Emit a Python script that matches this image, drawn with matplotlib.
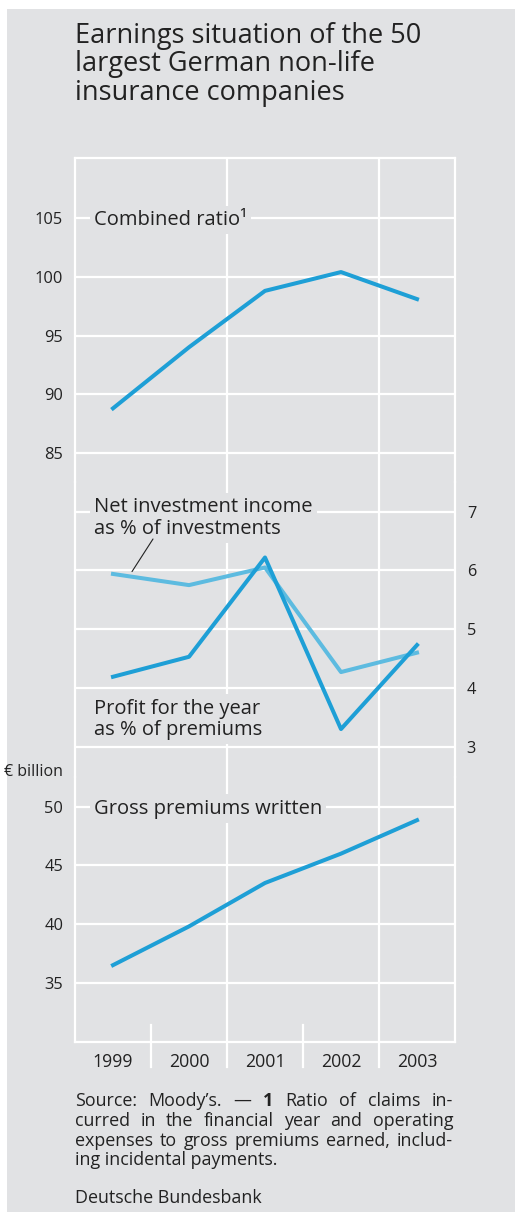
import matplotlib.pyplot as plt
from matplotlib.patches import Rectangle
from matplotlib.transforms import blended_transform_factory

# values
years = ['1999', '2000', '2001', '2002', '2003']
combined_ratio = [88.8, 94.0, 98.8, 100.4, 98.1]
net_investment = [5.94, 5.75, 6.05, 4.27, 4.60]
profit_year = [4.19, 4.53, 6.22, 3.30, 4.73]
gross_premiums = [36.5, 39.8, 43.5, 46.0, 48.85]

combined_ticks = [85, 90, 95, 100, 105]
ratio_ticks = [3, 4, 5, 6, 7]
premium_ticks = [35, 40, 45, 50]

BG = '#e1e2e4'
DARK = '#1e9fd6'
LIGHT = '#5dbbe0'
TXT = '#222222'

plt.rcParams['font.family'] = ['Open Sans', 'DejaVu Sans']

W, H = 515, 1212
fig = plt.figure(figsize=(W / 100, H / 100), dpi=100, facecolor=BG)

# white paper margin top and left
fig.patches.append(Rectangle((0, 1 - 9 / H), 1, 9 / H, transform=fig.transFigure,
                             facecolor='white', edgecolor='none', zorder=0))
fig.patches.append(Rectangle((0, 0), 7 / W, 1, transform=fig.transFigure,
                             facecolor='white', edgecolor='none', zorder=0))

# title
for line, base in zip(['Earnings situation of the 50',
                       'largest German non-life',
                       'insurance companies'], [43, 71.5, 100]):
    fig.text(75 / W, 1 - base / H, line, fontsize=19.5, color=TXT, va='baseline')


def box(top, bottom):
    return [75 / W, 1 - bottom / H, 380 / W, (bottom - top) / H]


ax1 = fig.add_axes(box(158, 482))
ax2 = fig.add_axes(box(482, 777))
ax3 = fig.add_axes(box(777, 1042))

ax1.set_ylim(82.53, 110.11)
ax2.set_ylim(2.484, 7.505)
ax3.set_ylim(29.95, 52.53)
ax1.set_yticks(combined_ticks)
ax2.set_yticks(ratio_ticks)
ax3.set_yticks(premium_ticks)
ax2.yaxis.tick_right()

for ax in (ax1, ax2, ax3):
    ax.set_facecolor('none')
    ax.set_xlim(-0.5, 4.5)
    ax.set_axisbelow(True)
    ax.grid(axis='y', color='white', lw=1.6)
    for s in ax.spines.values():
        s.set_color('white')
        s.set_linewidth(1.6)
    ax.tick_params(axis='y', length=0, pad=8.5, labelcolor=TXT, labelsize=11.8)
    for xv in (1.5, 3.5):
        ax.axvline(xv, color='white', lw=1.6, zorder=0.6)

ax1.spines['bottom'].set_visible(False)
ax2.spines['top'].set_visible(False)
ax2.spines['bottom'].set_visible(False)
ax3.spines['top'].set_visible(False)
ax1.set_xticks([])
ax2.set_xticks([])
ax3.set_xticks(range(len(years)))
ax3.set_xticklabels(years, fontsize=12.8, color=TXT)
ax3.tick_params(axis='x', length=0, pad=8)

# separators under the axis
tr = blended_transform_factory(ax3.transData, ax3.transAxes)
for xv in (0.5, 2.5):
    ax3.plot([xv, xv], [0.064, -0.094], transform=tr, color='white', lw=1.6, clip_on=False)
for xv in (1.5, 3.5):
    ax3.plot([xv, xv], [0, -0.094], transform=tr, color='white', lw=1.6, clip_on=False)

x = range(len(years))
lw = 2.9
ax1.plot(x, combined_ratio, color=DARK, lw=lw, zorder=3)
ax2.plot(x, net_investment, color=LIGHT, lw=lw, zorder=3)
ax2.plot(x, profit_year, color=DARK, lw=lw, zorder=4)
ax3.plot(x, gross_premiums, color=DARK, lw=lw, zorder=3)

lab_kw = dict(fontsize=14.5, color=TXT, va='baseline', ha='left', textcoords='offset points',
              bbox=dict(facecolor=BG, edgecolor='none', pad=3), zorder=2)
ax1.annotate('Combined ratio\u00b9', xy=(-0.25, 105), xytext=(0, -5), **lab_kw)
ax2.annotate('Net investment income\nas % of investments', xy=(-0.25, 7), xytext=(0, -16),
             linespacing=1.1, **lab_kw)
ax2.annotate('Profit for the year\nas % of premiums', xy=(-0.25, 4), xytext=(0, -34),
             linespacing=1.1, **lab_kw)
ax3.annotate('Gross premiums written', xy=(-0.25, 50), xytext=(0, -5), **lab_kw)

# leader line to the net investment series
ax2.annotate('', xy=(0.25, 5.98), xytext=(153, H - 539), textcoords='figure pixels',
             arrowprops=dict(arrowstyle='-', color=TXT, lw=0.8, shrinkA=0, shrinkB=0))

fig.text(63 / W, 1 - 772 / H, '\u20ac billion', fontsize=11.5, color=TXT, ha='right', va='center')

# footnote, justified
renderer = fig.canvas.get_renderer()
foot = [
    [('Source:', 'normal'), ('Moody\u2019s.', 'normal'), ('\u2014', 'normal'), ('1', 'bold'),
     ('Ratio', 'normal'), ('of', 'normal'), ('claims', 'normal'), ('in-', 'normal')],
    [(w, 'normal') for w in 'curred in the financial year and operating'.split()],
    [(w, 'normal') for w in 'expenses to gross premiums earned, includ-'.split()],
]
fsize = 12.9
for words, base in zip(foot, [1106, 1126, 1146]):
    texts = [fig.text(0, 1 - base / H, w, fontsize=fsize, fontweight=wt, color=TXT,
                      va='baseline') for w, wt in words]
    widths = [t.get_window_extent(renderer).width for t in texts]
    gap = (453 - 75 - sum(widths)) / (len(texts) - 1)
    xp = 75
    for t, wd in zip(texts, widths):
        t.set_x(xp / W)
        xp += wd + gap
fig.text(75 / W, 1 - 1165 / H, 'ing incidental payments.', fontsize=fsize, color=TXT, va='baseline')
fig.text(75 / W, 1 - 1203 / H, 'Deutsche Bundesbank', fontsize=fsize, color=TXT, va='baseline')

fig.savefig('out.png', dpi=100, facecolor=BG)
